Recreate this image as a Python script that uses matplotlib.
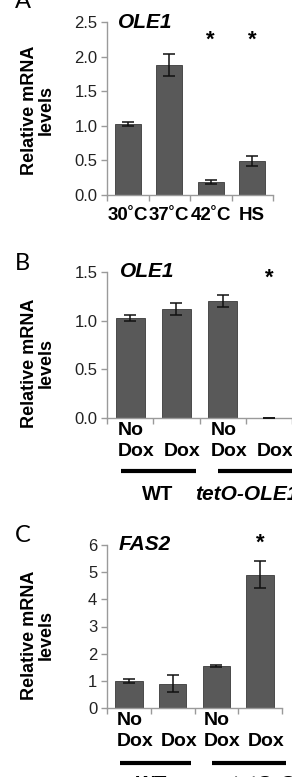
import matplotlib
matplotlib.use('Agg')
import matplotlib.pyplot as plt
import matplotlib.transforms as mtransforms
import numpy as np

plt.rcParams['font.family'] = ['Liberation Sans', 'DejaVu Sans']

# Panel A: OLE1 at different temperatures
temps = ['30˚C', '37˚C', '42˚C', 'HS']
ole1_temp = [1.02, 1.88, 0.19, 0.49]
ole1_temp_err = [0.03, 0.16, 0.03, 0.07]
sig_a = [False, False, True, True]

# Panel B: OLE1 with/without dox
dox_labels = ['No\nDox', '\nDox', 'No\nDox', '\nDox']
groups = ['WT', 'tetO-OLE1']
ole1_dox = [1.03, 1.12, 1.20, 0.005]
ole1_dox_err = [0.03, 0.06, 0.06, 0.0]
sig_b = [False, False, False, True]

# Panel C: FAS2 with/without dox
fas2_dox = [1.0, 0.9, 1.55, 4.9]
fas2_dox_err = [0.08, 0.3, 0.03, 0.5]
sig_c = [False, False, False, True]

W, H = 292, 777
fig = plt.figure(figsize=(W / 100, H / 100), dpi=100)

BAR = '#595959'
SPINE = '#9a9a9a'


def px_axes(left, right, top, bottom):
    return fig.add_axes([left / W, 1 - bottom / H, (right - left) / W, (bottom - top) / H])


def below(ax, dy, dx=0):
    # x in data, y at the axis bottom shifted down by dy pixels
    base = mtransforms.blended_transform_factory(ax.transData, ax.transAxes)
    return base + mtransforms.ScaledTranslation(dx / 100, -dy / 100, fig.dpi_scale_trans)


def bar_panel(ax, vals, errs, ymax, yticks, yfmt, title, sig, star_y):
    x = np.arange(len(vals)) + 0.5
    ax.bar(x, vals, width=0.63, color=BAR, edgecolor='#3a3a3a', linewidth=0.6, zorder=2)
    ax.errorbar(x, vals, yerr=errs, fmt='none', ecolor='#111111', elinewidth=1.1,
                capsize=4, capthick=1.1, zorder=3)
    ax.set_xlim(0, len(vals))
    ax.set_ylim(0, ymax)
    ax.set_yticks(yticks)
    ax.set_yticklabels([yfmt.format(v) for v in yticks])
    ax.set_xticks(np.arange(len(vals) + 1))
    ax.set_xticklabels([])
    for s in ['top', 'right']:
        ax.spines[s].set_visible(False)
    for s in ['left', 'bottom']:
        ax.spines[s].set_color(SPINE)
        ax.spines[s].set_linewidth(1.0)
    ax.tick_params(axis='both', colors=SPINE, length=4, width=1.0, direction='out')
    ax.tick_params(axis='y', labelcolor='#222222', labelsize=12, pad=3)
    ax.text(0.27, ymax, title, fontsize=15, fontweight='bold', fontstyle='italic',
            ha='left', va='center', clip_on=False)
    for xi, s in zip(x, sig):
        if s:
            ax.text(xi, star_y, '*', fontsize=16, fontweight='bold',
                    ha='center', va='center', clip_on=False)
    return x


def ylab(y):
    fig.text(38 / W, 1 - y / H, 'Relative mRNA\nlevels', rotation=90, fontsize=13,
             fontweight='bold', ha='center', va='center', linespacing=1.0)


def letter(x, y, s):
    fig.text(x / W, 1 - y / H, s, fontsize=17, family=['Lato', 'DejaVu Sans'],
             ha='left', va='center')


def dox_axis(ax, x, line_dy, group_dy, group_x):
    for xi, lab in zip(x, dox_labels):
        ax.text(xi, 0, lab, transform=below(ax, 4, 6), fontsize=14, fontweight='bold',
                ha='center', va='top', multialignment='left', linespacing=1.3,
                clip_on=False)
    for x0, x1 in [(0.3, 1.93), (2.4, 4.1)]:
        ax.plot([x0, x1], [0, 0], color='black', lw=3, transform=below(ax, line_dy),
                clip_on=False, solid_capstyle='butt')
    ax.text(group_x[0], 0, groups[0], transform=below(ax, group_dy), fontsize=14.5,
            fontweight='bold', ha='center', va='center', clip_on=False)
    ax.text(group_x[1], 0, groups[1], transform=below(ax, group_dy), fontsize=15,
            fontweight='bold', fontstyle='italic', ha='center', va='center', clip_on=False)


# Panel A
ax_a = px_axes(107, 273, 22, 195)
xa = bar_panel(ax_a, ole1_temp, ole1_temp_err, 2.5, [0, 0.5, 1.0, 1.5, 2.0, 2.5],
               '{:.1f}', 'OLE1', sig_a, 2.24)
for xi, lab in zip(xa, temps):
    ax_a.text(xi, 0, lab, transform=below(ax_a, 21), fontsize=13.5, fontweight='bold',
              ha='center', va='center', clip_on=False)
ylab(110)
letter(15, 2, 'A')

# Panel B
ax_b = px_axes(107, 292, 272, 418)
xb = bar_panel(ax_b, ole1_dox, ole1_dox_err, 1.5, [0, 0.5, 1.0, 1.5],
               '{:.1f}', 'OLE1', sig_b, 1.44)
dox_axis(ax_b, xb, 53, 77, [1.1, 3.02])
ylab(363)
letter(15, 263, 'B')

# Panel C
ax_c = px_axes(107, 282, 545, 708)
xc = bar_panel(ax_c, fas2_dox, fas2_dox_err, 6, [0, 1, 2, 3, 4, 5, 6],
               '{:.0f}', 'FAS2', sig_c, 6.07)
dox_axis(ax_c, xc, 55, 76, [1.03, 4.0])
ylab(635)
letter(15, 535, 'C')

fig.savefig('out.png', dpi=100)
